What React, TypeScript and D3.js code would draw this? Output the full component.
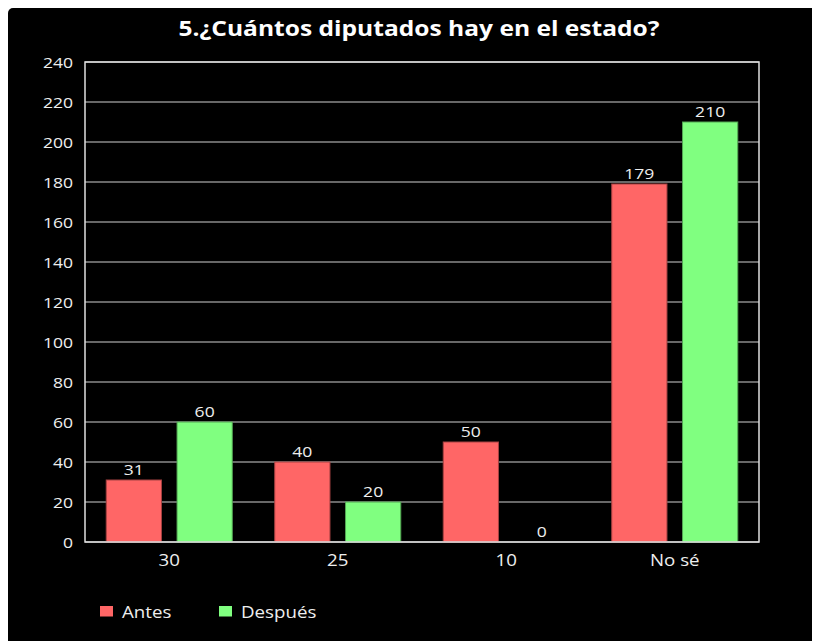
import React from 'react';
import * as d3 from 'd3';

const categories = ['30', '25', '10', 'No sé'];
const antes = [31, 40, 50, 179];
const despues = [60, 20, 0, 210];
const seriesNames = ['Antes', 'Después'];
const seriesColors = ['#ff6666', '#80ff80'];
const yTicks = [0, 20, 40, 60, 80, 100, 120, 140, 160, 180, 200, 220, 240];

const W = 812;
const H = 633;
// plot box, in svg coordinates
const plot = { left: 77, top: 54, right: 751, bottom: 534 };
const font = '"Open Sans", sans-serif';
// the reference text is a little wider than the font
const stretch = 1.17;

function T({ x, y, size, anchor = 'start', bold = false, fill = '#eee', children }: any) {
  return (
    <text transform={`translate(${x},${y}) scale(${stretch},1)`} textAnchor={anchor}
      fill={fill} fontFamily={font} fontSize={size} fontWeight={bold ? 'bold' : 'normal'}>
      {children}
    </text>
  );
}

export default function App() {
  const x0 = d3.scaleBand<string>()
    .domain(categories)
    .range([plot.left, plot.right])
    .paddingInner(0)
    .paddingOuter(0);

  const x1 = d3.scaleBand<string>()
    .domain(seriesNames)
    .range([0, x0.bandwidth()])
    .paddingInner(0.22)
    .paddingOuter(0.3);

  const y = d3.scaleLinear().domain([0, 240]).range([plot.bottom, plot.top]);

  const series = [antes, despues];

  return (
    <svg width={W} height={H} style={{ display: 'block' }}>
      <rect x={0} y={0} width={W + 10} height={H + 10} rx={5} fill="#000" />
      <T x={(plot.left + plot.right) / 2 - 3} y={28} anchor="middle" size={21} bold fill="#fff">
        5.¿Cuántos diputados hay en el estado?
      </T>

      {/* gridlines */}
      {yTicks.map(t => (
        <line key={t} x1={plot.left} x2={plot.right} y1={y(t)} y2={y(t)}
          stroke="#d0d0d0" strokeWidth={1} />
      ))}
      {yTicks.map(t => (
        <T key={'l' + t} x={plot.left - 12} y={y(t) + 5.5} anchor="end" size={15}>{t}</T>
      ))}

      {/* bars */}
      {categories.map((c, i) => (
        <g key={c} transform={`translate(${x0(c)},0)`}>
          {seriesNames.map((s, j) => {
            const v = series[j][i];
            const bx = x1(s)!;
            return (
              <g key={s}>
                {v > 0 && (
                  <rect x={bx} y={y(v)} width={x1.bandwidth()} height={y(0) - y(v)}
                    fill={seriesColors[j]} stroke={d3.color(seriesColors[j])!.darker(1.2).toString()}
                    strokeWidth={1} />
                )}
                <T x={bx + x1.bandwidth() / 2} y={y(v) - 5} anchor="middle" size={15}>{v}</T>
              </g>
            );
          })}
          <T x={x0.bandwidth() / 2} y={plot.bottom + 24} anchor="middle" size={16}>{c}</T>
        </g>
      ))}

      {/* plot border */}
      <rect x={plot.left} y={plot.top} width={plot.right - plot.left} height={plot.bottom - plot.top}
        fill="none" stroke="#e0e0e0" strokeWidth={1.5} />

      {/* legend */}
      {seriesNames.map((s, j) => (
        <g key={s} transform={`translate(${92 + j * 119},0)`}>
          <rect x={0} y={598} width={13} height={10.5} fill={seriesColors[j]} />
          <T x={22} y={609.5} size={16}>{s}</T>
        </g>
      ))}
    </svg>
  );
}
